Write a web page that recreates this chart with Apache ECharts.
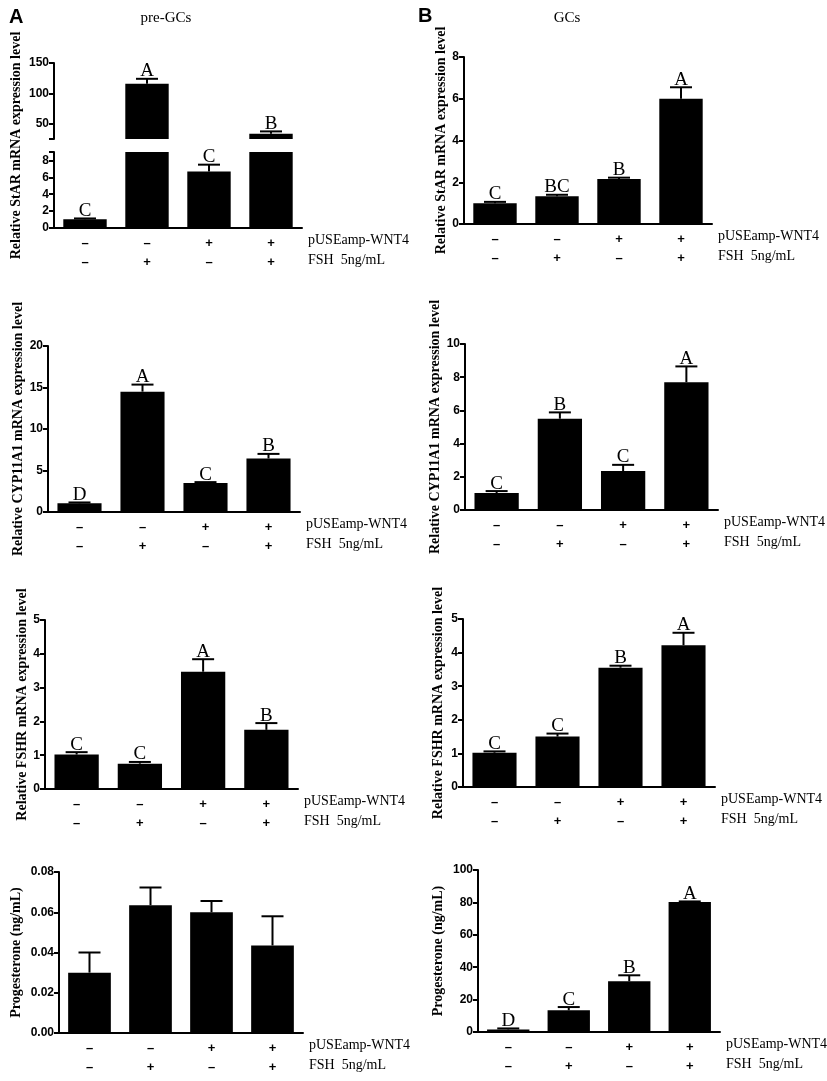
<!DOCTYPE html>
<html>
<head>
<meta charset="utf-8">
<title>WNT4 / FSH</title>
<script src="https://cdn.jsdelivr.net/npm/echarts@6/dist/echarts.min.js"></script>
<style>
  html, body { margin: 0; padding: 0; background: #fff; }
  #chart { width: 827px; height: 1081px; }
</style>
</head>
<body>
<div id="chart"></div>
<script>
// treatment rows under each bar
var wnt4 = ['–', '–', '+', '+'];
var fsh = ['–', '+', '–', '+'];
var groups = ['g1', 'g2', 'g3', 'g4'];

// StAR
var starPre = [1.05, 116, 6.7, 33.5];
var starPreErr = [0.08, 8, 0.8, 4];
var starPreLetters = ['C', 'A', 'C', 'B'];
var starGc = [1.0, 1.33, 2.15, 6.0];
var starGcErr = [0.06, 0.07, 0.07, 0.55];
var starGcLetters = ['C', 'BC', 'B', 'A'];
// CYP11A1
var cypPre = [1.05, 14.5, 3.5, 6.45];
var cypPreErr = [0.1, 0.85, 0.1, 0.55];
var cypPreLetters = ['D', 'A', 'C', 'B'];
var cypGc = [1.02, 5.5, 2.35, 7.7];
var cypGcErr = [0.12, 0.38, 0.37, 0.95];
var cypGcLetters = ['C', 'B', 'C', 'A'];
// FSHR
var fshrPre = [1.02, 0.75, 3.47, 1.75];
var fshrPreErr = [0.07, 0.05, 0.37, 0.2];
var fshrPreLetters = ['C', 'C', 'A', 'B'];
var fshrGc = [1.02, 1.5, 3.55, 4.22];
var fshrGcErr = [0.04, 0.09, 0.06, 0.37];
var fshrGcLetters = ['C', 'C', 'B', 'A'];
// progesterone
var progPre = [0.030, 0.0635, 0.060, 0.0435];
var progPreErr = [0.010, 0.0088, 0.0056, 0.0145];
var progGc = [1.6, 13.4, 31.3, 80.3];
var progGcErr = [0.6, 2.0, 3.7, 0.3];
var progGcLetters = ['D', 'C', 'B', 'A'];

var serif = '"Liberation Serif", "Times New Roman", serif';
var sans = '"Liberation Sans", Arial, sans-serif';

var grids = [], xAxes = [], yAxes = [], series = [];

function errRender(letters) {
    return function (params, api) {
        var i = api.value(0);
        var v = api.value(1);
        var e = api.value(2);
        var b = api.coord([i, v]);
        var t = api.coord([i, v + e]);
        var kids = [
            { type: 'line', shape: { x1: b[0], y1: b[1], x2: t[0], y2: t[1] }, style: { stroke: '#000', lineWidth: 2 } },
            { type: 'line', shape: { x1: t[0] - 11, y1: t[1], x2: t[0] + 11, y2: t[1] }, style: { stroke: '#000', lineWidth: 2 } }
        ];
        if (letters) {
            kids.push({ type: 'text', x: t[0], y: t[1] + 2,
                style: { text: letters[i], fill: '#000', font: '19px ' + serif, textAlign: 'center', textVerticalAlign: 'bottom' } });
        }
        return { type: 'group', children: kids };
    };
}

// p: left, top, width, height, values, err, letters, min, max, interval, yName, nameGap, fmt, showX, errFilter
function addPanel(p) {
    var gi = grids.length;
    grids.push({ left: p.left, top: p.top, width: p.width, height: p.height, containLabel: false, outerBoundsMode: 'none' });
    xAxes.push({
        gridIndex: gi, type: 'category', data: groups, show: p.showX !== false,
        axisLine: { lineStyle: { color: '#000', width: 2 } },
        axisTick: { alignWithLabel: true, length: 5, lineStyle: { color: '#000', width: 2 } },
        axisLabel: {
            margin: 6,
            formatter: function (v, i) { return '{s|' + wnt4[i] + '}\n{s|' + fsh[i] + '}'; },
            rich: { s: { fontFamily: sans, fontWeight: 'bold', fontSize: 13, color: '#000', lineHeight: 19 } }
        },
        name: 'pUSEamp-WNT4\nFSH  5ng/mL', nameLocation: 'end', nameGap: 6,
        nameTextStyle: { fontFamily: serif, fontSize: 14, color: '#000', align: 'left', verticalAlign: 'top', lineHeight: 20, padding: [2, 0, 0, 0] }
    });
    var y = {
        gridIndex: gi, type: 'value', min: p.min, max: p.max, interval: p.interval,
        axisLine: { show: true, lineStyle: { color: '#000', width: 2 } },
        axisTick: { show: true, length: 5, lineStyle: { color: '#000', width: 2 } },
        axisLabel: { margin: 5, fontFamily: sans, fontWeight: 'bold', fontSize: 12, color: '#000', formatter: p.fmt },
        splitLine: { show: false }
    };
    if (p.ticks) {
        y.axisLabel.customValues = p.labels;
        y.axisTick.customValues = p.ticks;
    }
    if (p.yName) {
        y.name = p.yName; y.nameLocation = 'middle'; y.nameGap = p.nameGap;
        y.nameTextStyle = { fontFamily: serif, fontWeight: 'bold', fontSize: 14, color: '#000' };
    }
    yAxes.push(y);
    series.push({ type: 'bar', xAxisIndex: gi, yAxisIndex: gi, data: p.values, barWidth: '70%',
        itemStyle: { color: '#000' }, silent: true, clip: true });
    var ed = [];
    for (var i = 0; i < p.values.length; i++) {
        if (!p.errFilter || p.errFilter(p.values[i])) ed.push([i, p.values[i], p.err[i]]);
    }
    series.push({ type: 'custom', xAxisIndex: gi, yAxisIndex: gi, data: ed, silent: true, z: 5,
        renderItem: errRender(p.letters) });
}

// A: pre-GCs, StAR with a broken axis (upper 25-150, lower 0-9)
addPanel({ left: 54, top: 63, width: 248, height: 76, values: starPre, err: starPreErr, letters: starPreLetters,
    min: 25, max: 150, ticks: [25, 50, 100, 150], labels: [50, 100, 150], showX: false,
    errFilter: function (v) { return v >= 25; } });
addPanel({ left: 54, top: 152, width: 248, height: 76, values: starPre, err: starPreErr, letters: starPreLetters,
    min: 0, max: 9, ticks: [0, 2, 4, 6, 8, 9], labels: [0, 2, 4, 6, 8],
    errFilter: function (v) { return v < 9; } });
// hidden axis that only carries the StAR axis title across both segments
grids.push({ left: 54, top: 63, width: 248, height: 165, containLabel: false, outerBoundsMode: 'none' });
xAxes.push({ gridIndex: grids.length - 1, type: 'category', data: groups, show: false });
yAxes.push({ gridIndex: grids.length - 1, type: 'value', axisLine: { show: false }, axisTick: { show: false },
    axisLabel: { show: false }, splitLine: { show: false },
    name: 'Relative StAR mRNA expression level', nameLocation: 'middle', nameGap: 31,
    nameTextStyle: { fontFamily: serif, fontWeight: 'bold', fontSize: 14, color: '#000' } });

addPanel({ left: 48, top: 346, width: 252, height: 166, values: cypPre, err: cypPreErr, letters: cypPreLetters,
    min: 0, max: 20, interval: 5, yName: 'Relative CYP11A1 mRNA expression level', nameGap: 16 });
addPanel({ left: 45, top: 620, width: 253, height: 169, values: fshrPre, err: fshrPreErr, letters: fshrPreLetters,
    min: 0, max: 5, interval: 1, yName: 'Relative FSHR mRNA expression level', nameGap: 13 });
addPanel({ left: 59, top: 872, width: 244, height: 161, values: progPre, err: progPreErr, letters: null,
    min: 0, max: 0.08, interval: 0.02, yName: 'Progesterone (ng/mL)', nameGap: 36,
    fmt: function (v) { return v.toFixed(2); } });

// B: GCs
addPanel({ left: 464, top: 57, width: 248, height: 167, values: starGc, err: starGcErr, letters: starGcLetters,
    min: 0, max: 8, interval: 2, yName: 'Relative StAR mRNA expression level', nameGap: 16 });
addPanel({ left: 465, top: 344, width: 253, height: 166, values: cypGc, err: cypGcErr, letters: cypGcLetters,
    min: 0, max: 10, interval: 2, yName: 'Relative CYP11A1 mRNA expression level', nameGap: 15 });
addPanel({ left: 463, top: 619, width: 252, height: 168, values: fshrGc, err: fshrGcErr, letters: fshrGcLetters,
    min: 0, max: 5, interval: 1, yName: 'Relative FSHR mRNA expression level', nameGap: 18 });
addPanel({ left: 478, top: 870, width: 242, height: 162, values: progGc, err: progGcErr, letters: progGcLetters,
    min: 0, max: 100, interval: 20, yName: 'Progesterone (ng/mL)', nameGap: 33 });

var chart = echarts.init(document.getElementById('chart'), null, { renderer: 'canvas' });
chart.setOption({
    backgroundColor: '#fff',
    animation: false,
    title: [
        { text: 'A', left: 4, top: 2, textStyle: { fontFamily: sans, fontWeight: 'bold', fontSize: 20, color: '#000' } },
        { text: 'B', left: 413, top: 1, textStyle: { fontFamily: sans, fontWeight: 'bold', fontSize: 20, color: '#000' } },
        { text: 'pre-GCs', left: 161, top: 6, textAlign: 'center', textStyle: { fontFamily: serif, fontWeight: 'normal', fontSize: 15, color: '#000' } },
        { text: 'GCs', left: 562, top: 6, textAlign: 'center', textStyle: { fontFamily: serif, fontWeight: 'normal', fontSize: 15, color: '#000' } }
    ],
    grid: grids,
    xAxis: xAxes,
    yAxis: yAxes,
    series: series
});
</script>
</body>
</html>
